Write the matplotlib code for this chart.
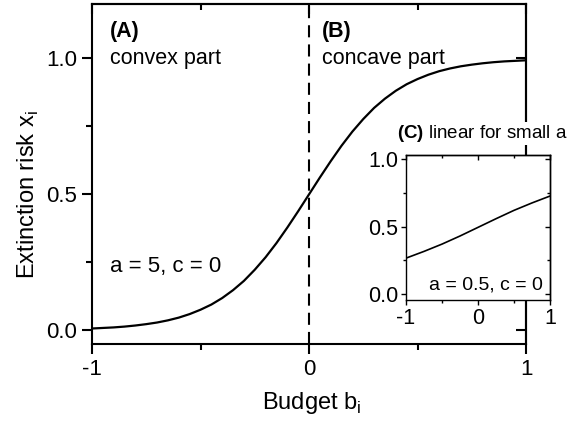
import matplotlib
matplotlib.use('Agg')
import matplotlib.pyplot as plt
from matplotlib.ticker import MultipleLocator

plt.rcParams['font.family'] = ['Liberation Sans', 'DejaVu Sans']
plt.rcParams['mathtext.fontset'] = 'custom'
plt.rcParams['mathtext.rm'] = 'Liberation Sans'
plt.rcParams['mathtext.bf'] = 'Liberation Sans:bold'

# curva principal (a = 5, c = 0)
budget = [-1.0, -0.95, -0.9, -0.85, -0.8, -0.75, -0.7, -0.65, -0.6, -0.55, -0.5,
          -0.45, -0.4, -0.35, -0.3, -0.25, -0.2, -0.15, -0.1, -0.05, 0.0,
          0.05, 0.1, 0.15, 0.2, 0.25, 0.3, 0.35, 0.4, 0.45, 0.5,
          0.55, 0.6, 0.65, 0.7, 0.75, 0.8, 0.85, 0.9, 0.95, 1.0]
risco = [0.007, 0.009, 0.011, 0.014, 0.018, 0.023, 0.029, 0.037, 0.047, 0.060, 0.076,
         0.095, 0.119, 0.148, 0.182, 0.223, 0.269, 0.321, 0.378, 0.438, 0.5,
         0.562, 0.622, 0.679, 0.731, 0.777, 0.818, 0.852, 0.881, 0.905, 0.924,
         0.940, 0.953, 0.963, 0.971, 0.977, 0.982, 0.986, 0.989, 0.991, 0.993]

# inset (a = 0.5, c = 0)
budget_in = [-1.0, -0.75, -0.5, -0.25, 0.0, 0.25, 0.5, 0.75, 1.0]
risco_in = [0.266, 0.316, 0.370, 0.430, 0.494, 0.558, 0.620, 0.675, 0.726]


def ticks(a, maj, mnr, lw, lmaj, lmin, size):
    # ticks para fora embaixo/esquerda, para dentro em cima/direita
    a.xaxis.set_major_locator(MultipleLocator(maj[0]))
    a.xaxis.set_minor_locator(MultipleLocator(mnr[0]))
    a.yaxis.set_major_locator(MultipleLocator(maj[1]))
    a.yaxis.set_minor_locator(MultipleLocator(mnr[1]))
    a.xaxis.set_major_formatter(plt.FuncFormatter(lambda v, p: '%d' % round(v)))
    a.yaxis.set_major_formatter(plt.FuncFormatter(lambda v, p: '%.1f' % v))
    a.tick_params(which='both', direction='out', width=lw, labelsize=size, top=False, right=False)
    a.tick_params(which='major', length=lmaj)
    a.tick_params(which='minor', length=lmin)
    for s in a.spines.values():
        s.set_linewidth(lw)
    t = a.secondary_xaxis('top')
    t.xaxis.set_major_locator(MultipleLocator(maj[0]))
    t.xaxis.set_minor_locator(MultipleLocator(mnr[0]))
    r = a.secondary_yaxis('right')
    r.yaxis.set_major_locator(MultipleLocator(maj[1]))
    r.yaxis.set_minor_locator(MultipleLocator(mnr[1]))
    for sec in (t, r):
        sec.tick_params(which='both', direction='in', width=lw, labeltop=False, labelright=False)
        sec.tick_params(which='major', length=lmaj)
        sec.tick_params(which='minor', length=lmin)
        for s in sec.spines.values():
            s.set_linewidth(lw)


fig = plt.figure(figsize=(5.76, 4.23), dpi=100)
ax = fig.add_axes([92/576, 1-344/423, 434/576, 340/423])

ax.plot(budget, risco, color='black', lw=1.6)
ax.axvline(0, color='black', lw=1.5, ls=(0, (5.8, 3.4)))
ax.set_xlim(-1, 1)
ax.set_ylim(-0.05, 1.2)
ticks(ax, (1, 0.5), (0.5, 0.25), 1.5, 7, 4, 16)

ax.set_xlabel(r'Budget b$_\mathregular{i}$', fontsize=17)
ax.xaxis.set_label_coords(0.507, -0.135)
ax.set_ylabel(r'Extinction risk x$_\mathregular{i}$', fontsize=17)
ax.yaxis.set_label_coords(-0.118, 0.44)

ax.text(-0.917, 1.077, '(A)', fontsize=15.5, fontweight='bold')
ax.text(-0.917, 0.98, 'convex part', fontsize=15.5)
ax.text(0.06, 1.077, '(B)', fontsize=15.5, fontweight='bold')
ax.text(0.06, 0.98, 'concave part', fontsize=15.5)
ax.text(-0.917, 0.213, 'a = 5, c = 0', fontsize=16)

fig.text(397/576, 1-138/423, r'$\mathbf{(C)}$ linear for small a', fontsize=13.5,
         bbox=dict(facecolor='white', edgecolor='none', pad=1))

axi = fig.add_axes([406/576, 1-300/423, 144/576, 145/423])
axi.plot(budget_in, risco_in, color='black', lw=1.2)
axi.set_xlim(-1, 1)
axi.set_ylim(-0.044, 1.03)
ticks(axi, (1, 0.5), (0.5, 0.25), 1.0, 3.5, 2, 15.5)
axi.tick_params(which='both', pad=2)
axi.text(0.95, 0.07, 'a = 0.5, c = 0', transform=axi.transAxes, fontsize=14, ha='right')

fig.savefig('out.png', dpi=100)
